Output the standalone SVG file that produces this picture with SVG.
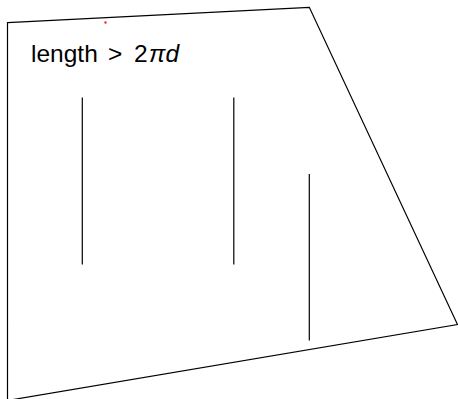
<svg xmlns="http://www.w3.org/2000/svg" width="458" height="399" viewBox="0 0 458 399">
<style>
.ln{stroke:#000;stroke-width:1.2;fill:none}
.t{font-family:"Liberation Sans","DejaVu Sans",sans-serif;font-size:24.5px;fill:#000}
</style>
<rect width="458" height="399" fill="#fff"/>
<g id="outline">
<polygon class="ln" points="7.5,22.7 309.3,7.3 457.5,324.5 7.5,400.5"/>
</g>
<g id="label">
<text class="t" y="62"><tspan x="31">length</tspan><tspan x="108">&gt;</tspan><tspan x="134">2</tspan><tspan x="149" font-style="italic">πd</tspan></text>
</g>
<g id="lines">
<line class="ln" x1="82.3" y1="97.5" x2="82.3" y2="264.5"/>
<line class="ln" x1="233.8" y1="97.5" x2="233.8" y2="264.5"/>
<line class="ln" x1="309.3" y1="174" x2="309.3" y2="340.5"/>
</g>
<g id="dot">
<rect x="104.5" y="21.5" width="2" height="2" fill="#e00"/>
</g>
</svg>
